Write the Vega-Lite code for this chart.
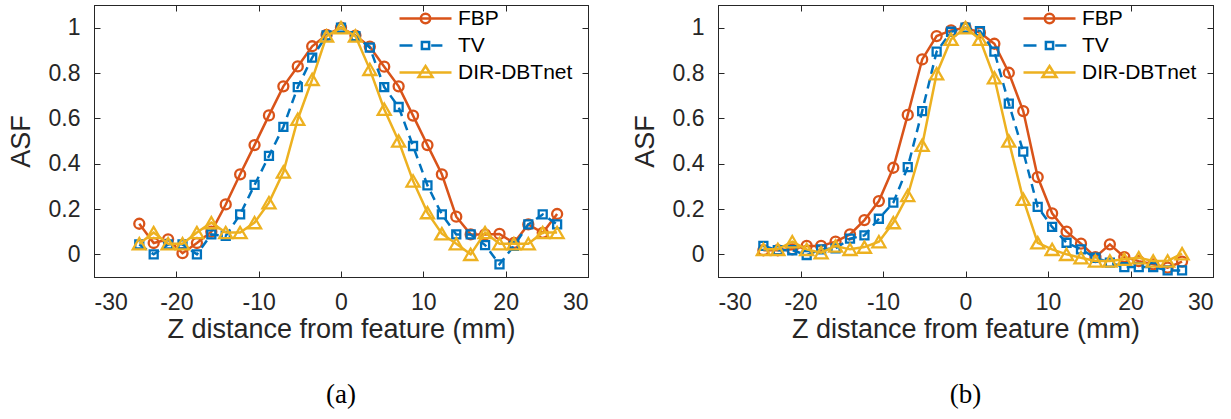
{
"$schema": "https://vega.github.io/schema/vega-lite/v6.json",
"background": "white",
"padding": {"left": 6, "top": 4, "right": 5, "bottom": 0},
"datasets": {
"a": [
{"m":"FBP","z":-24.5,"v":0.135},{"m":"FBP","z":-22.75,"v":0.05},{"m":"FBP","z":-21,"v":0.066},{"m":"FBP","z":-19.25,"v":0.005},{"m":"FBP","z":-17.5,"v":0.05},{"m":"FBP","z":-15.75,"v":0.1},{"m":"FBP","z":-14,"v":0.22},{"m":"FBP","z":-12.25,"v":0.353},{"m":"FBP","z":-10.5,"v":0.482},{"m":"FBP","z":-8.75,"v":0.613},{"m":"FBP","z":-7,"v":0.741},{"m":"FBP","z":-5.25,"v":0.829},{"m":"FBP","z":-3.5,"v":0.918},{"m":"FBP","z":-1.75,"v":0.968},{"m":"FBP","z":0,"v":1.0},{"m":"FBP","z":1.75,"v":0.965},{"m":"FBP","z":3.5,"v":0.916},{"m":"FBP","z":5.25,"v":0.828},{"m":"FBP","z":7,"v":0.741},{"m":"FBP","z":8.75,"v":0.612},{"m":"FBP","z":10.5,"v":0.482},{"m":"FBP","z":12.25,"v":0.353},{"m":"FBP","z":14,"v":0.166},{"m":"FBP","z":15.75,"v":0.088},{"m":"FBP","z":17.5,"v":0.088},{"m":"FBP","z":19.25,"v":0.09},{"m":"FBP","z":21,"v":0.05},{"m":"FBP","z":22.75,"v":0.132},{"m":"FBP","z":24.5,"v":0.095},{"m":"FBP","z":26.25,"v":0.178},
{"m":"TV","z":-24.5,"v":0.044},{"m":"TV","z":-22.75,"v":0.0},{"m":"TV","z":-21,"v":0.044},{"m":"TV","z":-19.25,"v":0.044},{"m":"TV","z":-17.5,"v":0.0},{"m":"TV","z":-15.75,"v":0.088},{"m":"TV","z":-14,"v":0.081},{"m":"TV","z":-12.25,"v":0.176},{"m":"TV","z":-10.5,"v":0.306},{"m":"TV","z":-8.75,"v":0.434},{"m":"TV","z":-7,"v":0.562},{"m":"TV","z":-5.25,"v":0.738},{"m":"TV","z":-3.5,"v":0.868},{"m":"TV","z":-1.75,"v":0.966},{"m":"TV","z":0,"v":1.0},{"m":"TV","z":1.75,"v":0.963},{"m":"TV","z":3.5,"v":0.912},{"m":"TV","z":5.25,"v":0.738},{"m":"TV","z":7,"v":0.65},{"m":"TV","z":8.75,"v":0.478},{"m":"TV","z":10.5,"v":0.304},{"m":"TV","z":12.25,"v":0.176},{"m":"TV","z":14,"v":0.088},{"m":"TV","z":15.75,"v":0.088},{"m":"TV","z":17.5,"v":0.041},{"m":"TV","z":19.25,"v":-0.044},{"m":"TV","z":21,"v":0.037},{"m":"TV","z":22.75,"v":0.132},{"m":"TV","z":24.5,"v":0.176},{"m":"TV","z":26.25,"v":0.132},
{"m":"DIR-DBTnet","z":-24.5,"v":0.047},{"m":"DIR-DBTnet","z":-22.75,"v":0.096},{"m":"DIR-DBTnet","z":-21,"v":0.047},{"m":"DIR-DBTnet","z":-19.25,"v":0.047},{"m":"DIR-DBTnet","z":-17.5,"v":0.096},{"m":"DIR-DBTnet","z":-15.75,"v":0.14},{"m":"DIR-DBTnet","z":-14,"v":0.096},{"m":"DIR-DBTnet","z":-12.25,"v":0.096},{"m":"DIR-DBTnet","z":-10.5,"v":0.14},{"m":"DIR-DBTnet","z":-8.75,"v":0.228},{"m":"DIR-DBTnet","z":-7,"v":0.363},{"m":"DIR-DBTnet","z":-5.25,"v":0.596},{"m":"DIR-DBTnet","z":-3.5,"v":0.772},{"m":"DIR-DBTnet","z":-1.75,"v":0.963},{"m":"DIR-DBTnet","z":0,"v":1.0},{"m":"DIR-DBTnet","z":1.75,"v":0.963},{"m":"DIR-DBTnet","z":3.5,"v":0.816},{"m":"DIR-DBTnet","z":5.25,"v":0.64},{"m":"DIR-DBTnet","z":7,"v":0.5},{"m":"DIR-DBTnet","z":8.75,"v":0.324},{"m":"DIR-DBTnet","z":10.5,"v":0.184},{"m":"DIR-DBTnet","z":12.25,"v":0.091},{"m":"DIR-DBTnet","z":14,"v":0.047},{"m":"DIR-DBTnet","z":15.75,"v":0.0},{"m":"DIR-DBTnet","z":17.5,"v":0.096},{"m":"DIR-DBTnet","z":19.25,"v":0.047},{"m":"DIR-DBTnet","z":21,"v":0.047},{"m":"DIR-DBTnet","z":22.75,"v":0.047},{"m":"DIR-DBTnet","z":24.5,"v":0.096},{"m":"DIR-DBTnet","z":26.25,"v":0.096}
],
"b": [
{"m":"FBP","z":-24.5,"v":0.018},{"m":"FBP","z":-22.75,"v":0.018},{"m":"FBP","z":-21,"v":0.022},{"m":"FBP","z":-19.25,"v":0.037},{"m":"FBP","z":-17.5,"v":0.037},{"m":"FBP","z":-15.75,"v":0.056},{"m":"FBP","z":-14,"v":0.088},{"m":"FBP","z":-12.25,"v":0.151},{"m":"FBP","z":-10.5,"v":0.235},{"m":"FBP","z":-8.75,"v":0.382},{"m":"FBP","z":-7,"v":0.615},{"m":"FBP","z":-5.25,"v":0.86},{"m":"FBP","z":-3.5,"v":0.963},{"m":"FBP","z":-1.75,"v":0.988},{"m":"FBP","z":0,"v":1.0},{"m":"FBP","z":1.75,"v":0.978},{"m":"FBP","z":3.5,"v":0.929},{"m":"FBP","z":5.25,"v":0.801},{"m":"FBP","z":7,"v":0.632},{"m":"FBP","z":8.75,"v":0.341},{"m":"FBP","z":10.5,"v":0.181},{"m":"FBP","z":12.25,"v":0.1},{"m":"FBP","z":14,"v":0.047},{"m":"FBP","z":15.75,"v":-0.012},{"m":"FBP","z":17.5,"v":0.044},{"m":"FBP","z":19.25,"v":-0.012},{"m":"FBP","z":21,"v":-0.03},{"m":"FBP","z":22.75,"v":-0.044},{"m":"FBP","z":24.5,"v":-0.059},{"m":"FBP","z":26.25,"v":-0.032},
{"m":"TV","z":-24.5,"v":0.037},{"m":"TV","z":-22.75,"v":0.018},{"m":"TV","z":-21,"v":0.018},{"m":"TV","z":-19.25,"v":-0.003},{"m":"TV","z":-17.5,"v":0.022},{"m":"TV","z":-15.75,"v":0.026},{"m":"TV","z":-14,"v":0.069},{"m":"TV","z":-12.25,"v":0.084},{"m":"TV","z":-10.5,"v":0.157},{"m":"TV","z":-8.75,"v":0.228},{"m":"TV","z":-7,"v":0.385},{"m":"TV","z":-5.25,"v":0.632},{"m":"TV","z":-3.5,"v":0.894},{"m":"TV","z":-1.75,"v":0.982},{"m":"TV","z":0,"v":1.0},{"m":"TV","z":1.75,"v":0.985},{"m":"TV","z":3.5,"v":0.894},{"m":"TV","z":5.25,"v":0.665},{"m":"TV","z":7,"v":0.453},{"m":"TV","z":8.75,"v":0.209},{"m":"TV","z":10.5,"v":0.121},{"m":"TV","z":12.25,"v":0.051},{"m":"TV","z":14,"v":0.022},{"m":"TV","z":15.75,"v":-0.015},{"m":"TV","z":17.5,"v":-0.037},{"m":"TV","z":19.25,"v":-0.056},{"m":"TV","z":21,"v":-0.056},{"m":"TV","z":22.75,"v":-0.056},{"m":"TV","z":24.5,"v":-0.071},{"m":"TV","z":26.25,"v":-0.071},
{"m":"DIR-DBTnet","z":-24.5,"v":0.022},{"m":"DIR-DBTnet","z":-22.75,"v":0.022},{"m":"DIR-DBTnet","z":-21,"v":0.056},{"m":"DIR-DBTnet","z":-19.25,"v":0.022},{"m":"DIR-DBTnet","z":-17.5,"v":0.007},{"m":"DIR-DBTnet","z":-15.75,"v":0.037},{"m":"DIR-DBTnet","z":-14,"v":0.022},{"m":"DIR-DBTnet","z":-12.25,"v":0.032},{"m":"DIR-DBTnet","z":-10.5,"v":0.056},{"m":"DIR-DBTnet","z":-8.75,"v":0.14},{"m":"DIR-DBTnet","z":-7,"v":0.26},{"m":"DIR-DBTnet","z":-5.25,"v":0.481},{"m":"DIR-DBTnet","z":-3.5,"v":0.797},{"m":"DIR-DBTnet","z":-1.75,"v":0.949},{"m":"DIR-DBTnet","z":0,"v":1.0},{"m":"DIR-DBTnet","z":1.75,"v":0.949},{"m":"DIR-DBTnet","z":3.5,"v":0.779},{"m":"DIR-DBTnet","z":5.25,"v":0.5},{"m":"DIR-DBTnet","z":7,"v":0.243},{"m":"DIR-DBTnet","z":8.75,"v":0.051},{"m":"DIR-DBTnet","z":10.5,"v":0.022},{"m":"DIR-DBTnet","z":12.25,"v":0.0},{"m":"DIR-DBTnet","z":14,"v":-0.015},{"m":"DIR-DBTnet","z":15.75,"v":-0.029},{"m":"DIR-DBTnet","z":17.5,"v":-0.029},{"m":"DIR-DBTnet","z":19.25,"v":-0.022},{"m":"DIR-DBTnet","z":21,"v":-0.015},{"m":"DIR-DBTnet","z":22.75,"v":-0.029},{"m":"DIR-DBTnet","z":24.5,"v":-0.029},{"m":"DIR-DBTnet","z":26.25,"v":0.003}
]
},
"config": {
"view": {"stroke": "#262626", "strokeWidth": 1},
"axis": {"grid": false, "labelFont": "Liberation Sans", "labelFontSize": 23, "labelColor": "#262626", "titleFont": "Liberation Sans", "titleFontSize": 27, "titleFontWeight": "normal", "titleColor": "#262626", "domainColor": "#262626", "tickColor": "#262626", "tickSize": -6, "domainWidth": 1, "tickWidth": 1},
"legend": {"padding": 0, "orient": "none", "legendX": 320, "legendY": 2, "labelFont": "Liberation Sans", "labelFontSize": 21, "labelColor": "#000000", "symbolSize": 400, "symbolStrokeWidth": 2.3, "symbolOpacity": 1, "symbolFillColor": "transparent", "symbolOffset": 0, "labelOffset": 21, "rowPadding": 5},
"line": {"strokeWidth": 2.5},
"point": {"filled": false, "strokeWidth": 2.3, "opacity": 1}
},
"spacing": 41,
"resolve": {"scale": {"color": "independent", "shape": "independent"}, "legend": {"color": "independent", "shape": "independent"}},
"hconcat": [
{
"width": 494, "height": 272,
"data": {"name": "a"},
"title": {"text": "(a)", "orient": "bottom", "font": "Liberation Serif", "fontSize": 27, "fontWeight": "normal", "color": "#000000", "offset": 40},
"resolve": {"axis": {"x": "independent", "y": "independent"}},
"layer": [
{"transform": [{"filter": "datum.m === 'FBP'"}], "mark": {"type": "line"},
"encoding": {
"x": {"field": "z", "type": "quantitative", "scale": {"domain": [-30, 30], "nice": false}, "axis": {"values": [-30, -20, -10, 0, 10, 20, 30], "labelExpr": "'' + datum.value", "title": "Z distance from feature (mm)", "labelPadding": 20, "titlePadding": 2}},
"y": {"field": "v", "type": "quantitative", "scale": {"domain": [-0.1, 1.1], "nice": false}, "axis": {"values": [0, 0.2, 0.4, 0.6, 0.8, 1], "labelExpr": "'' + datum.value", "title": "ASF", "labelPadding": 20, "titlePadding": 13}},
"color": {"field": "m", "type": "nominal", "title": null, "scale": {"domain": ["FBP", "TV", "DIR-DBTnet"], "range": ["#D95319", "#0072BD", "#EDB120"]},
"legend": {"encode": {"symbols": {"fill": {"value": "transparent"}, "strokeDash": {"value": [1, 0]}, "opacity": {"value": 1}}}}}
}},
{"transform": [{"filter": "datum.m === 'FBP'"}], "mark": {"type": "point", "shape": "circle", "size": 100},
"encoding": {
"x": {"field": "z", "type": "quantitative", "scale": {"domain": [-30, 30], "nice": false}, "axis": {"orient": "top", "values": [-30, -20, -10, 0, 10, 20, 30], "labels": false, "title": null}},
"y": {"field": "v", "type": "quantitative", "scale": {"domain": [-0.1, 1.1], "nice": false}, "axis": {"orient": "right", "values": [0, 0.2, 0.4, 0.6, 0.8, 1], "labels": false, "title": null}},
"color": {"field": "m", "type": "nominal", "title": null, "scale": {"domain": ["FBP", "TV", "DIR-DBTnet"], "range": ["#D95319", "#0072BD", "#EDB120"]}}
}},
{"transform": [{"filter": "datum.m === 'TV'"}], "mark": {"type": "line", "strokeDash": [9, 6]},
"encoding": {
"x": {"field": "z", "type": "quantitative", "axis": null},
"y": {"field": "v", "type": "quantitative", "axis": null},
"color": {"field": "m", "type": "nominal", "title": null, "scale": {"domain": ["FBP", "TV", "DIR-DBTnet"], "range": ["#D95319", "#0072BD", "#EDB120"]}}
}},
{"transform": [{"filter": "datum.m === 'TV'"}], "mark": {"type": "point", "shape": "square", "size": 64},
"encoding": {
"x": {"field": "z", "type": "quantitative", "axis": null},
"y": {"field": "v", "type": "quantitative", "axis": null},
"color": {"field": "m", "type": "nominal", "title": null, "scale": {"domain": ["FBP", "TV", "DIR-DBTnet"], "range": ["#D95319", "#0072BD", "#EDB120"]}}
}},
{"transform": [{"filter": "datum.m === 'DIR-DBTnet'"}], "mark": {"type": "line"},
"encoding": {
"x": {"field": "z", "type": "quantitative", "axis": null},
"y": {"field": "v", "type": "quantitative", "axis": null},
"color": {"field": "m", "type": "nominal", "title": null, "scale": {"domain": ["FBP", "TV", "DIR-DBTnet"], "range": ["#D95319", "#0072BD", "#EDB120"]}}
}},
{"transform": [{"filter": "datum.m === 'DIR-DBTnet'"}], "mark": {"type": "point", "shape": "triangle-up", "size": 170},
"encoding": {
"x": {"field": "z", "type": "quantitative", "axis": null},
"y": {"field": "v", "type": "quantitative", "axis": null},
"color": {"field": "m", "type": "nominal", "title": null, "scale": {"domain": ["FBP", "TV", "DIR-DBTnet"], "range": ["#D95319", "#0072BD", "#EDB120"]}}
}},
{"mark": {"type": "point", "opacity": 0, "size": 1},
"encoding": {
"x": {"field": "z", "type": "quantitative", "axis": null},
"y": {"field": "v", "type": "quantitative", "axis": null},
"color": {"field": "m", "type": "nominal", "title": null, "scale": {"domain": ["FBP", "TV", "DIR-DBTnet"], "range": ["#D95319", "#0072BD", "#EDB120"]}},
"shape": {"field": "m", "type": "nominal", "title": null, "scale": {"domain": ["FBP", "TV", "DIR-DBTnet"], "range": ["M-2.6,0L2.6,0M0.47,0A0.47,0.47,0,1,1,-0.47,0A0.47,0.47,0,1,1,0.47,0", "M-2.6,0L-1.3,0M0.57,0L1.69,0M-0.36,-0.36L0.36,-0.36L0.36,0.36L-0.36,0.36Z", "M-2.6,0L2.6,0M0,-0.65L0.7,0.44L-0.7,0.44Z"]}}
}}
]
},
{
"width": 495, "height": 272,
"data": {"name": "b"},
"title": {"text": "(b)", "orient": "bottom", "font": "Liberation Serif", "fontSize": 27, "fontWeight": "normal", "color": "#000000", "offset": 40},
"resolve": {"axis": {"x": "independent", "y": "independent"}},
"layer": [
{"transform": [{"filter": "datum.m === 'FBP'"}], "mark": {"type": "line"},
"encoding": {
"x": {"field": "z", "type": "quantitative", "scale": {"domain": [-30, 30], "nice": false}, "axis": {"values": [-30, -20, -10, 0, 10, 20, 30], "labelExpr": "'' + datum.value", "title": "Z distance from feature (mm)", "labelPadding": 20, "titlePadding": 2}},
"y": {"field": "v", "type": "quantitative", "scale": {"domain": [-0.1, 1.1], "nice": false}, "axis": {"values": [0, 0.2, 0.4, 0.6, 0.8, 1], "labelExpr": "'' + datum.value", "title": "ASF", "labelPadding": 20, "titlePadding": 13}},
"color": {"field": "m", "type": "nominal", "title": null, "scale": {"domain": ["FBP", "TV", "DIR-DBTnet"], "range": ["#D95319", "#0072BD", "#EDB120"]},
"legend": {"encode": {"symbols": {"fill": {"value": "transparent"}, "strokeDash": {"value": [1, 0]}, "opacity": {"value": 1}}}}}
}},
{"transform": [{"filter": "datum.m === 'FBP'"}], "mark": {"type": "point", "shape": "circle", "size": 100},
"encoding": {
"x": {"field": "z", "type": "quantitative", "scale": {"domain": [-30, 30], "nice": false}, "axis": {"orient": "top", "values": [-30, -20, -10, 0, 10, 20, 30], "labels": false, "title": null}},
"y": {"field": "v", "type": "quantitative", "scale": {"domain": [-0.1, 1.1], "nice": false}, "axis": {"orient": "right", "values": [0, 0.2, 0.4, 0.6, 0.8, 1], "labels": false, "title": null}},
"color": {"field": "m", "type": "nominal", "title": null, "scale": {"domain": ["FBP", "TV", "DIR-DBTnet"], "range": ["#D95319", "#0072BD", "#EDB120"]}}
}},
{"transform": [{"filter": "datum.m === 'TV'"}], "mark": {"type": "line", "strokeDash": [9, 6]},
"encoding": {
"x": {"field": "z", "type": "quantitative", "axis": null},
"y": {"field": "v", "type": "quantitative", "axis": null},
"color": {"field": "m", "type": "nominal", "title": null, "scale": {"domain": ["FBP", "TV", "DIR-DBTnet"], "range": ["#D95319", "#0072BD", "#EDB120"]}}
}},
{"transform": [{"filter": "datum.m === 'TV'"}], "mark": {"type": "point", "shape": "square", "size": 64},
"encoding": {
"x": {"field": "z", "type": "quantitative", "axis": null},
"y": {"field": "v", "type": "quantitative", "axis": null},
"color": {"field": "m", "type": "nominal", "title": null, "scale": {"domain": ["FBP", "TV", "DIR-DBTnet"], "range": ["#D95319", "#0072BD", "#EDB120"]}}
}},
{"transform": [{"filter": "datum.m === 'DIR-DBTnet'"}], "mark": {"type": "line"},
"encoding": {
"x": {"field": "z", "type": "quantitative", "axis": null},
"y": {"field": "v", "type": "quantitative", "axis": null},
"color": {"field": "m", "type": "nominal", "title": null, "scale": {"domain": ["FBP", "TV", "DIR-DBTnet"], "range": ["#D95319", "#0072BD", "#EDB120"]}}
}},
{"transform": [{"filter": "datum.m === 'DIR-DBTnet'"}], "mark": {"type": "point", "shape": "triangle-up", "size": 170},
"encoding": {
"x": {"field": "z", "type": "quantitative", "axis": null},
"y": {"field": "v", "type": "quantitative", "axis": null},
"color": {"field": "m", "type": "nominal", "title": null, "scale": {"domain": ["FBP", "TV", "DIR-DBTnet"], "range": ["#D95319", "#0072BD", "#EDB120"]}}
}},
{"mark": {"type": "point", "opacity": 0, "size": 1},
"encoding": {
"x": {"field": "z", "type": "quantitative", "axis": null},
"y": {"field": "v", "type": "quantitative", "axis": null},
"color": {"field": "m", "type": "nominal", "title": null, "scale": {"domain": ["FBP", "TV", "DIR-DBTnet"], "range": ["#D95319", "#0072BD", "#EDB120"]}},
"shape": {"field": "m", "type": "nominal", "title": null, "scale": {"domain": ["FBP", "TV", "DIR-DBTnet"], "range": ["M-2.6,0L2.6,0M0.47,0A0.47,0.47,0,1,1,-0.47,0A0.47,0.47,0,1,1,0.47,0", "M-2.6,0L-1.3,0M0.57,0L1.69,0M-0.36,-0.36L0.36,-0.36L0.36,0.36L-0.36,0.36Z", "M-2.6,0L2.6,0M0,-0.65L0.7,0.44L-0.7,0.44Z"]}}
}}
]
}
]
}
